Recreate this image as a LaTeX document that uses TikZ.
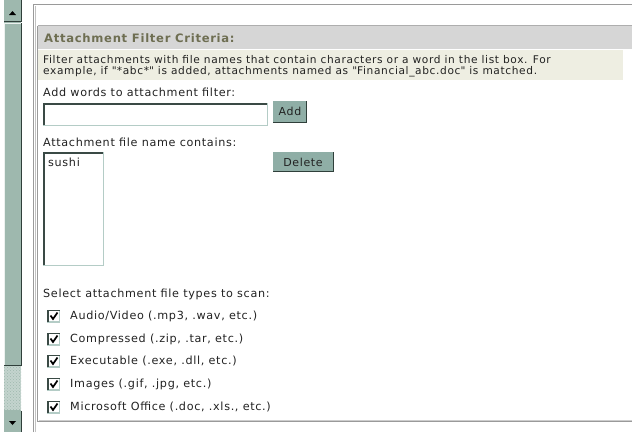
\documentclass[tikz,border=0pt]{standalone}
\usepackage{fontspec}
\setmainfont[LetterSpace=6.0]{DejaVu Sans}
\usetikzlibrary{patterns}
\definecolor{txt}{HTML}{222222}
\definecolor{hdrbg}{HTML}{D6D6D6}
\definecolor{hdrtxt}{HTML}{6E6E52}
\definecolor{beige}{HTML}{EEEEE2}
\definecolor{btn}{HTML}{8FAEA6}
\definecolor{btndark}{HTML}{2F3F3A}
\definecolor{scroll}{HTML}{9EB8AE}
\definecolor{track}{HTML}{C4D4CE}
\definecolor{frame}{HTML}{9A9A9A}
\definecolor{boxdark}{HTML}{3A4A45}
\definecolor{boxlight}{HTML}{B4CCC6}
\tikzset{
  lbl/.style={anchor=west,inner sep=0pt,text=txt,font=\fontsize{11.2}{12}\selectfont},
  desc/.style={anchor=west,inner sep=0pt,text=txt,font=\fontsize{10.6}{12}\selectfont},
  btnlbl/.style={inner sep=0pt,text=txt,font=\fontsize{11}{12}\selectfont},
}
\begin{document}
\begin{tikzpicture}[x=1pt,y=-1pt]
\useasboundingbox (0,0) rectangle (632,432);
\fill[white] (0,0) rectangle (632,432);
% scrollbar
\fill[scroll] (4,0) rectangle (21,432);
\fill[track] (4,366) rectangle (21,410);
\pattern[pattern=crosshatch dots, pattern color=scroll] (4,366) rectangle (21,410);
% up button
\fill[scroll] (4,0) rectangle (21,21);
\draw[btndark,line width=1] (4,21.5) -- (21.5,21.5) -- (21.5,0);
\fill[black] (9,15) -- (16,15) -- (12.5,11) -- cycle;
% thumb
\fill[scroll] (4,23) rectangle (21,365);
\draw[btndark,line width=1] (4,365.5) -- (21.5,365.5) -- (21.5,23);
\draw[white!80!scroll,line width=1] (4.5,365) -- (4.5,23.5) -- (21,23.5);
% down button
\fill[scroll] (4,411) rectangle (21,432);
\draw[btndark,line width=1] (21.5,411) -- (21.5,432);
\fill[black] (9,421) -- (16,421) -- (12.5,425) -- cycle;
% outer frame lines
\draw[frame,line width=1] (33,432) -- (33,4.5) -- (632,4.5);
\draw[frame!60,line width=1] (35,432) -- (35,6);
% panel
\draw[frame,line width=1.2] (37.5,25.5) -- (37.5,421.5) -- (632,421.5);
\draw[frame!50,line width=1] (38.5,420) -- (632,420);
% header
\fill[hdrbg] (38,25) rectangle (632,49);
\draw[frame!80,line width=1] (38,25.5) -- (632,25.5);
\node[anchor=west,inner sep=0pt,text=hdrtxt,font=\fontsize{11.6}{12}\selectfont\bfseries] (hdr) at (44,38) {Attachment Filter Criteria:};
% description
\fill[beige] (38,50) rectangle (623,80);
\node[desc] (d1) at (43,60) {Filter attachments with file names that contain characters or a word in the list box. For};
\node[desc] (d2) at (43,72) {example, if \textquotedbl*abc*\textquotedbl{} is added, attachments named as \textquotedbl Financial\_abc.doc\textquotedbl{} is matched.};
% add words
\node[lbl] (addlbl) at (43,92) {Add words to attachment filter:};
\fill[boxlight] (43,103) rectangle (268,126);
\fill[white] (44.5,104.5) rectangle (266.5,124.5);
\draw[boxdark,line width=1.5] (44,125) -- (44,104) -- (267,104);
% add button
\fill[btn] (273,101) rectangle (307,123);
\draw[btndark,line width=1] (273,122.5) -- (306.5,122.5) -- (306.5,101);
\node[btnlbl] (addbtn) at (290,111.5) {Add};
% list label
\node[lbl] (listlbl) at (43,142) {Attachment file name contains:};
\fill[boxlight] (43,152) rectangle (104,266);
\fill[white] (44.5,153.5) rectangle (102.5,264.5);
\draw[boxdark,line width=1.5] (44,265) -- (44,153) -- (103,153);
\node[lbl] (sushi) at (48,162) {sushi};
% delete button
\fill[btn] (273,152) rectangle (334,172);
\draw[btndark,line width=1] (273,171.5) -- (333.5,171.5) -- (333.5,152);
\node[btnlbl] (delbtn) at (303,162) {Delete};
% file types
\node[lbl] (sel) at (43,294) {Select attachment file types to scan:};
\foreach \y/\t/\n in {316/{Audio/Video (.mp3, .wav, etc.)}/c1,
                      339/{Compressed (.zip, .tar, etc.)}/c2,
                      361/{Executable (.exe, .dll, etc.)}/c3,
                      384/{Images (.gif, .jpg, etc.)}/c4,
                      407/{Microsoft Office (.doc, .xls., etc.)}/c5}{
  \fill[boxlight] (47,\y-6.5) rectangle (60,\y+6.5);
  \fill[white] (48.5,\y-5) rectangle (58.5,\y+5);
  \draw[boxdark,line width=1.3] (48,\y+6) -- (48,\y-5.5) -- (59.5,\y-5.5);
  \draw[black,line width=1.7] (50.5,\y-0.5) -- (53,\y+3) -- (57.5,\y-3.5);
  \node[lbl] (\n) at (70,\y) {\t};
}
\end{tikzpicture}
\end{document}
